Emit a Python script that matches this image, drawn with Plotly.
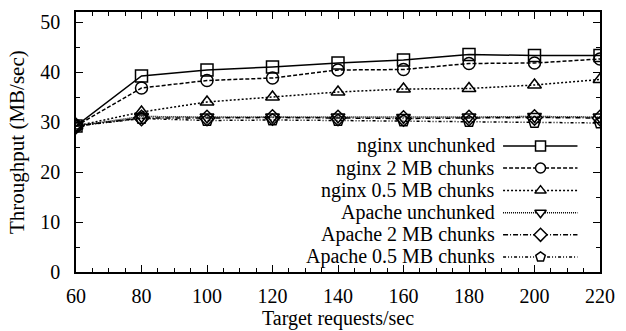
import plotly.graph_objects as go

x = [60, 80, 100, 120, 140, 160, 180, 200, 220]
nginx_unchunked = [29.2, 39.2, 40.4, 41.0, 41.8, 42.4, 43.5, 43.3, 43.3]
nginx_2mb = [29.2, 36.8, 38.3, 38.8, 40.4, 40.5, 41.7, 41.8, 42.6]
nginx_05mb = [29.2, 32.0, 34.0, 35.0, 36.0, 36.6, 36.7, 37.4, 38.5]
apache_unchunked = [29.2, 31.1, 31.0, 31.0, 31.0, 30.9, 31.0, 31.1, 31.0]
apache_2mb = [29.2, 30.8, 30.8, 30.9, 30.8, 30.7, 30.8, 30.9, 30.8]
apache_05mb = [29.2, 30.7, 30.3, 30.4, 30.3, 30.2, 30.1, 29.9, 29.8]

names = ["nginx unchunked", "nginx 2 MB chunks", "nginx 0.5 MB chunks",
         "Apache unchunked", "Apache 2 MB chunks", "Apache 0.5 MB chunks"]
series = [nginx_unchunked, nginx_2mb, nginx_05mb, apache_unchunked, apache_2mb, apache_05mb]
symbols = ["square", "circle", "triangle-up", "triangle-down", "diamond", "pentagon"]
dashes = ["solid", "4px,2px", "2px,2px", "1px,1px", "5px,2px,1px,2px", "3px,2px,1px,2px,1px,2px"]

FONT = "Liberation Serif"
FS = 20

fig = go.Figure()
for name, ys, sym, dash in zip(names, series, symbols, dashes):
    fig.add_trace(go.Scatter(
        x=x, y=ys, mode="lines+markers", name=name, showlegend=False,
        line=dict(color="black", width=1.5, dash=dash),
        marker=dict(symbol=sym + "-open", size=12, color="black", line=dict(width=1.5)),
    ))

# manual gnuplot-style legend (text left of sample) on an overlay axis
leg_y = [0.485, 0.40, 0.313, 0.228, 0.143, 0.058]
for name, sym, dash, ly in zip(names, symbols, dashes, leg_y):
    fig.add_trace(go.Scatter(
        x=[0.815, 0.957], y=[ly, ly], mode="lines", xaxis="x2", yaxis="y2",
        showlegend=False, hoverinfo="skip",
        line=dict(color="black", width=1.5, dash=dash)))
    fig.add_trace(go.Scatter(
        x=[0.8865], y=[ly], mode="markers", xaxis="x2", yaxis="y2",
        showlegend=False, hoverinfo="skip",
        marker=dict(symbol=sym, size=10, color="white", line=dict(width=1.5, color="black"))))
    fig.add_annotation(x=0.803, y=ly, xref="x2", yref="y2", text=name, showarrow=False,
                       xanchor="right", yanchor="middle",
                       font=dict(family=FONT, size=FS, color="black"))

# y-axis title placed like gnuplot's
fig.add_annotation(x=-59 / 524, y=0.5, xref="paper", yref="paper", text="Throughput (MB/sec)",
                   textangle=-90, showarrow=False, xanchor="center", yanchor="middle",
                   font=dict(family=FONT, size=FS + 1, color="black"))

axis_common = dict(
    showgrid=False, zeroline=False, showline=True, linecolor="black", linewidth=1.5,
    mirror="ticks", ticks="inside", ticklen=7, tickwidth=1, tickcolor="black",
    tickfont=dict(family=FONT, size=FS, color="black"),
)

fig.update_layout(
    width=626, height=331,
    margin=dict(l=76, r=26, t=10, b=56),
    paper_bgcolor="white", plot_bgcolor="white",
    showlegend=False,
    xaxis=dict(range=[60, 220], tickvals=list(range(60, 221, 20)),
               minor=dict(ticks="inside", ticklen=4, dtick=5, tickcolor="black"),
               ticklabelstandoff=5,
               title=dict(text="Target requests/sec", font=dict(family=FONT, size=FS, color="black"), standoff=0),
               **axis_common),
    yaxis=dict(range=[0, 52], tickvals=list(range(0, 51, 10)),
               minor=dict(ticks="inside", ticklen=4, dtick=5, tickcolor="black"),
               ticklabelstandoff=10,
               **axis_common),
    xaxis2=dict(range=[0, 1], overlaying="x", visible=False, fixedrange=True),
    yaxis2=dict(range=[0, 1], overlaying="y", visible=False, fixedrange=True, anchor="x2"),
)

fig.write_html("out.html")
